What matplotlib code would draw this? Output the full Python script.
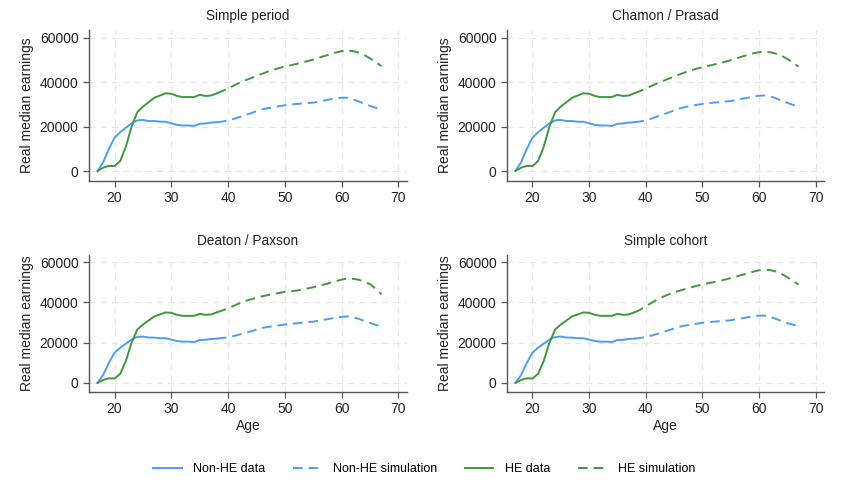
import matplotlib
matplotlib.use("Agg")
import matplotlib.pyplot as plt
import numpy as np

plt.rcParams['font.family'] = ['Liberation Sans', 'DejaVu Sans']

ages_data = list(range(17, 39))
ages_sim = list(range(38, 68))

nonhe_data = [0, 4000, 10000, 15000, 17500, 19500, 21500, 22800, 23000, 22500, 22500,
              22200, 22200, 21500, 20800, 20500, 20500, 20300, 21300, 21400, 21800, 22000]
he_data = [0, 1500, 2300, 2200, 4500, 11000, 20000, 26500, 29000, 31000, 33000,
           34000, 35000, 34800, 33800, 33300, 33300, 33300, 34300, 33800, 34000, 35000]

titles = ["Simple period", "Chamon / Prasad", "Deaton / Paxson", "Simple cohort"]

nonhe_sim = {
    "Simple period": [22000, 22300, 22800, 23500, 24300, 25200, 26000, 27000, 27800, 28300,
                      28700, 29200, 29600, 29900, 30200, 30400, 30600, 30800, 31300, 31800,
                      32300, 32700, 33000, 33000, 32300, 31300, 30300, 29300, 28500, 27700],
    "Chamon / Prasad": [22000, 22300, 22800, 23600, 24500, 25400, 26300, 27300, 28200, 28800,
                        29300, 29800, 30200, 30500, 30800, 31000, 31300, 31500, 32000, 32500,
                        33000, 33500, 33900, 34000, 33600, 32700, 31700, 30700, 29800, 29000],
    "Deaton / Paxson": [22000, 22300, 22700, 23300, 24000, 24800, 25600, 26500, 27300, 27800,
                        28200, 28600, 29000, 29300, 29600, 29900, 30200, 30400, 30900, 31400,
                        31900, 32400, 32800, 33000, 32600, 31800, 30800, 29800, 28800, 28000],
    "Simple cohort": [22000, 22300, 22800, 23500, 24300, 25200, 26100, 27000, 27900, 28500,
                      28900, 29400, 29800, 30100, 30400, 30600, 30800, 31100, 31600, 32100,
                      32600, 33100, 33400, 33400, 32800, 31800, 30700, 29700, 28900, 28200],
}

he_sim = {
    "Simple period": [35000, 36000, 37200, 38500, 39700, 40800, 41800, 42800, 43800, 44800,
                      45600, 46400, 47000, 47600, 48200, 48800, 49500, 50200, 51000, 51800,
                      52600, 53400, 54000, 54200, 54000, 53300, 52200, 50700, 49000, 47300],
    "Chamon / Prasad": [35000, 36000, 37100, 38300, 39400, 40500, 41500, 42500, 43500, 44500,
                        45300, 46100, 46700, 47300, 47900, 48500, 49200, 49900, 50700, 51500,
                        52300, 53000, 53500, 53700, 53500, 52900, 51900, 50500, 48800, 47000],
    "Deaton / Paxson": [35000, 36000, 37000, 38300, 39500, 40600, 41500, 42300, 43000, 43600,
                        44200, 44700, 45200, 45500, 45800, 46300, 46900, 47500, 48200, 48900,
                        49700, 50500, 51300, 51800, 51700, 51200, 50300, 49000, 46800, 44000],
    "Simple cohort": [35000, 36300, 38000, 39700, 41300, 42700, 43900, 44900, 45800, 46600,
                      47400, 48200, 48900, 49500, 50000, 50600, 51300, 52000, 52800, 53600,
                      54400, 55200, 55900, 56200, 56000, 55300, 54100, 52500, 50700, 48800],
}

blue = "#4a9ff5"
green = "#3d9a3a"
dash = (0, (5, 3))

fig = plt.figure(figsize=(8.48, 4.97), dpi=100)

W, H = 848, 497
boxes = [
    (89, 30, 407, 181),
    (507, 30, 824, 181),
    (89, 255, 407, 392),
    (507, 255, 824, 392),
]

handles, labels = None, None
for i, (t, (x0, y0, x1, y1)) in enumerate(zip(titles, boxes)):
    ax = fig.add_axes([x0 / W, 1 - y1 / H, (x1 - x0) / W, (y1 - y0) / H])
    ax.plot(ages_data, nonhe_data, color=blue, lw=1.4, label="Non-HE data")
    ax.plot(ages_sim, nonhe_sim[t], color=blue, lw=1.4, ls=dash, label="Non-HE simulation")
    ax.plot(ages_data, he_data, color=green, lw=1.4, label="HE data")
    ax.plot(ages_sim, he_sim[t], color=green, lw=1.4, ls=dash, label="HE simulation")
    ax.set_xlim(15.5, 71.5)
    ax.set_ylim(-4500, 63500)
    ax.set_xticks([20, 30, 40, 50, 60, 70])
    ax.set_yticks([0, 20000, 40000, 60000])
    ax.grid(True, color="#e6e6e6", ls=(0, (5, 4)), lw=0.9)
    ax.set_axisbelow(True)
    for s in ["top", "right"]:
        ax.spines[s].set_visible(False)
    for s in ["left", "bottom"]:
        ax.spines[s].set_color("#555555")
        ax.spines[s].set_linewidth(1.0)
    ax.tick_params(colors="#555555", labelcolor="#222222", labelsize=10, length=4, width=0.9)
    ax.set_title(t, fontsize=9.8, color="#222222", pad=7)
    ax.set_ylabel("Real median earnings", fontsize=10, color="#222222", labelpad=4)
    if i >= 2:
        ax.set_xlabel("Age", fontsize=10, color="#222222", labelpad=2)
    if i == 0:
        handles, labels = ax.get_legend_handles_labels()

fig.legend(handles, labels, loc="center", bbox_to_anchor=(0.5, 1 - 469 / H), ncol=4,
           frameon=False, fontsize=9, handlelength=2.3, columnspacing=2.2, handletextpad=0.9)

fig.savefig("out.png", dpi=100, facecolor="white")
